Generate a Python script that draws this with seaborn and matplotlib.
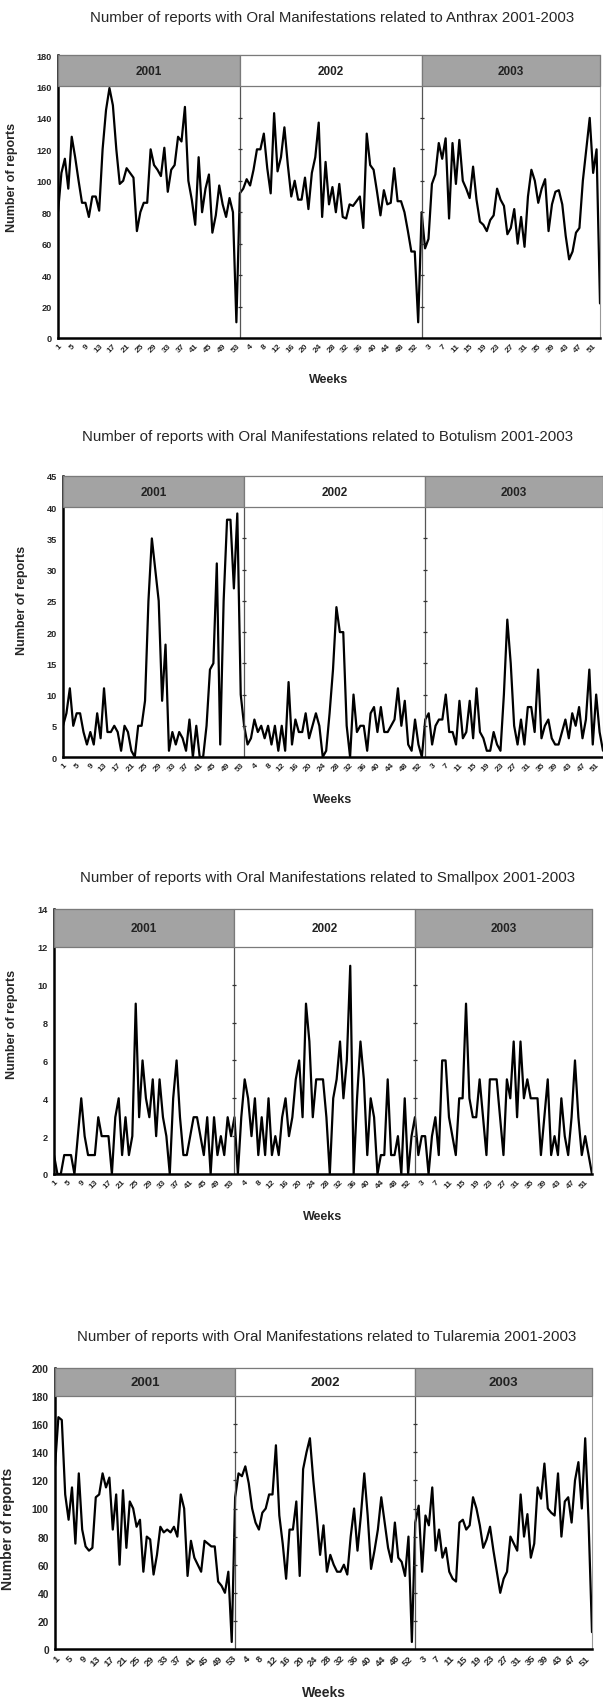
import numpy as np
import pandas as pd
import matplotlib
matplotlib.use("Agg")
import matplotlib.pyplot as plt
from matplotlib.patches import Rectangle
import seaborn as sns

# Weekly report counts
years = ["2001", "2002", "2003"]
weeks_per_year = [53, 53, 53]

anthrax_2001 = [80, 105, 114, 95, 128, 115, 100, 86, 86, 77, 90, 90, 81, 120, 145, 159, 148, 120, 98, 100,
                108, 105, 102, 68, 80, 86, 86, 120, 110, 107, 103, 121, 93, 107, 110, 128, 125, 147, 100, 88,
                72, 115, 80, 95, 104, 67, 78, 97, 85, 77, 89, 80, 10]
anthrax_2002 = [92, 95, 101, 97, 107, 120, 120, 130, 108, 92, 143, 106, 115, 134, 110, 90, 100, 88, 88, 102,
                82, 105, 115, 137, 77, 112, 85, 96, 80, 98, 77, 76, 85, 84, 87, 90, 70, 130, 110, 107,
                93, 78, 94, 85, 86, 108, 87, 87, 80, 68, 55, 55, 10]
anthrax_2003 = [80, 57, 63, 98, 104, 124, 114, 127, 76, 124, 98, 126, 100, 95, 89, 109, 88, 74, 72, 68,
                75, 78, 95, 88, 84, 66, 70, 82, 60, 77, 58, 90, 107, 100, 86, 95, 101, 68, 85, 93,
                94, 85, 65, 50, 55, 67, 70, 100, 120, 140, 105, 120, 22]

botulism_2001 = [5, 7, 11, 5, 7, 7, 4, 2, 4, 2, 7, 3, 11, 4, 4, 5, 4, 1, 5, 4,
                 1, 0, 5, 5, 9, 25, 35, 30, 25, 9, 18, 1, 4, 2, 4, 3, 1, 6, 0, 5,
                 0, 0, 5, 14, 15, 31, 2, 25, 38, 38, 27, 39, 10]
botulism_2002 = [5, 2, 3, 6, 4, 5, 3, 5, 2, 5, 1, 5, 1, 12, 2, 6, 4, 4, 7, 3,
                 5, 7, 5, 0, 1, 7, 14, 24, 20, 20, 5, 0, 10, 4, 5, 5, 1, 7, 8, 4,
                 8, 4, 4, 5, 6, 11, 5, 9, 2, 1, 6, 2, 0]
botulism_2003 = [6, 7, 2, 5, 6, 6, 10, 4, 4, 2, 9, 3, 4, 9, 3, 11, 4, 3, 1, 1,
                 4, 2, 1, 10, 22, 15, 5, 2, 6, 2, 8, 8, 4, 14, 3, 5, 6, 3, 2, 2,
                 4, 6, 3, 7, 5, 8, 3, 6, 14, 2, 10, 4, 1]

smallpox_2001 = [1, 0, 0, 1, 1, 1, 0, 2, 4, 2, 1, 1, 1, 3, 2, 2, 2, 0, 3, 4,
                 1, 3, 1, 2, 9, 3, 6, 4, 3, 5, 2, 5, 3, 2, 0, 4, 6, 3, 1, 1,
                 2, 3, 3, 2, 1, 3, 0, 3, 1, 2, 1, 3, 2]
smallpox_2002 = [3, 0, 3, 5, 4, 2, 4, 1, 3, 1, 4, 1, 2, 1, 3, 4, 2, 3, 5, 6,
                 3, 9, 7, 3, 5, 5, 5, 3, 0, 4, 5, 7, 4, 6, 11, 0, 4, 7, 5, 1,
                 4, 3, 0, 1, 1, 5, 1, 1, 2, 0, 4, 0, 2]
smallpox_2003 = [3, 1, 2, 2, 0, 2, 3, 1, 6, 6, 3, 2, 1, 4, 4, 9, 4, 3, 3, 5,
                 3, 1, 5, 5, 5, 3, 1, 5, 4, 7, 3, 7, 4, 5, 4, 4, 4, 1, 3, 5,
                 1, 2, 1, 4, 2, 1, 3, 6, 3, 1, 2, 1, 0]

tularemia_2001 = [130, 165, 163, 110, 92, 115, 75, 125, 85, 73, 70, 72, 108, 110, 125, 115, 122, 85, 110, 60,
                  113, 72, 105, 100, 87, 92, 55, 80, 78, 53, 67, 87, 83, 85, 83, 87, 80, 110, 100, 52,
                  77, 65, 60, 55, 77, 75, 73, 73, 48, 45, 40, 55, 5]
tularemia_2002 = [108, 125, 123, 130, 118, 100, 90, 85, 97, 100, 110, 110, 145, 95, 75, 50, 85, 85, 105, 52,
                  128, 140, 150, 120, 95, 67, 88, 55, 67, 60, 55, 55, 60, 53, 80, 100, 70, 95, 125, 95,
                  57, 70, 85, 108, 90, 72, 62, 90, 65, 62, 52, 80, 5]
tularemia_2003 = [90, 102, 55, 95, 88, 115, 70, 85, 65, 72, 55, 50, 48, 90, 92, 85, 88, 108, 100, 88,
                  72, 78, 87, 70, 55, 40, 50, 55, 80, 75, 70, 110, 80, 96, 65, 75, 115, 107, 132, 100,
                  97, 95, 125, 80, 105, 108, 90, 120, 133, 100, 150, 90, 12]

diseases = ["Anthrax", "Botulism", "Smallpox", "Tularemia"]
series = {
    "Anthrax": [anthrax_2001, anthrax_2002, anthrax_2003],
    "Botulism": [botulism_2001, botulism_2002, botulism_2003],
    "Smallpox": [smallpox_2001, smallpox_2002, smallpox_2003],
    "Tularemia": [tularemia_2001, tularemia_2002, tularemia_2003],
}
y_max = {"Anthrax": 180, "Botulism": 45, "Smallpox": 14, "Tularemia": 200}
y_step = {"Anthrax": 20, "Botulism": 5, "Smallpox": 2, "Tularemia": 20}

# layout in pixels: plot area edges, title/"Weeks" positions, y-label placement, font scale
W, H = 603, 1699
layout = {
    "Anthrax": dict(l=58, r=600, t=56, b=339, ty=18, tx=332, wy=380, ylx=18, yly=0.57, fs=1.0),
    "Botulism": dict(l=63, r=603, t=477, b=758, ty=437, tx=327, wy=800, ylx=28, yly=0.56, fs=1.0),
    "Smallpox": dict(l=54, r=592, t=910, b=1175, ty=878, tx=327, wy=1217, ylx=18, yly=0.57, fs=1.0),
    "Tularemia": dict(l=55, r=592, t=1369, b=1650, ty=1337, tx=327, wy=1693, ylx=15, yly=0.43, fs=1.12),
}

sns.set_theme(style="white")
plt.rcParams["font.family"] = ["Liberation Sans", "DejaVu Sans"]

fig = plt.figure(figsize=(W / 100, H / 100), dpi=100)

header_colors = ["#a3a3a3", "#ffffff", "#a3a3a3"]

for name in diseases:
    lay = layout[name]
    ax = fig.add_axes([lay["l"] / W, 1 - lay["b"] / H, (lay["r"] - lay["l"]) / W, (lay["b"] - lay["t"]) / H])

    # long table: running index + week-of-year
    rows = []
    idx = 0
    for yr, vals in zip(years, series[name]):
        for w, v in enumerate(vals, start=1):
            rows.append((idx, yr, w, v))
            idx += 1
    df = pd.DataFrame(rows, columns=["idx", "year", "week", "reports"])
    n = len(df)

    sns.lineplot(data=df, x="idx", y="reports", color="black", linewidth=1.6, ax=ax)

    ymax = y_max[name]
    step = y_step[name]
    head_lo = ymax - step
    ax.set_xlim(0, n - 1)
    ax.set_ylim(0, ymax)

    # year header boxes and separators
    starts = [0] + list(np.cumsum(weeks_per_year)[:-1])
    ends = list(np.cumsum(weeks_per_year)[:-1]) + [n - 1]
    for yr, s, e, c in zip(years, starts, ends, header_colors):
        ax.add_patch(Rectangle((s, head_lo), e - s, step, facecolor=c, edgecolor="#7a7a7a",
                               linewidth=0.9, zorder=3, clip_on=False))
        ax.text((s + e) / 2, head_lo + step / 2, yr, ha="center", va="center",
                fontsize=8.5 * lay["fs"], fontweight="bold", color="#222222", zorder=4)
    for s in starts[1:]:
        ax.axvline(s, color="#555555", linewidth=0.9, zorder=2)
        yt = np.arange(step, head_lo, step)
        ax.plot([s] * len(yt), yt, linestyle="none", marker="_", markersize=3,
                color="#333333", markeredgewidth=0.9)

    ax.set_yticks(np.arange(0, ymax + step, step))
    ax.set_yticklabels([str(v) for v in np.arange(0, ymax + step, step)],
                       fontsize=6.6 * lay["fs"], fontweight="bold")
    ticks = df["idx"].values[::4]
    ax.set_xticks(ticks)
    ax.set_xticklabels(df["week"].values[::4], rotation=45, ha="right",
                       rotation_mode="anchor", fontsize=6 * lay["fs"], fontweight="bold")
    ax.tick_params(axis="y", direction="out", length=3, width=1.2, color="black", pad=1.5)
    ax.tick_params(axis="x", length=0, pad=3)

    for sp in ["left", "bottom"]:
        ax.spines[sp].set_color("black")
        ax.spines[sp].set_linewidth(1.8)
    for sp in ["top", "right"]:
        ax.spines[sp].set_color("#999999")
        ax.spines[sp].set_linewidth(0.8)

    ax.set_xlabel("")
    ax.set_ylabel("Number of reports", fontsize=9 * lay["fs"], fontweight="bold")
    ax.yaxis.set_label_coords((lay["ylx"] - lay["l"]) / (lay["r"] - lay["l"]), lay["yly"])

    fig.text(lay["tx"] / W, 1 - lay["ty"] / H,
             f"Number of reports with Oral Manifestations related to {name} 2001-2003",
             ha="center", va="center", fontsize=10.8)
    fig.text((lay["l"] + lay["r"]) / 2 / W, 1 - lay["wy"] / H, "Weeks",
             ha="center", va="center", fontsize=9 * lay["fs"], fontweight="bold")

fig.savefig("out.png", dpi=100)
